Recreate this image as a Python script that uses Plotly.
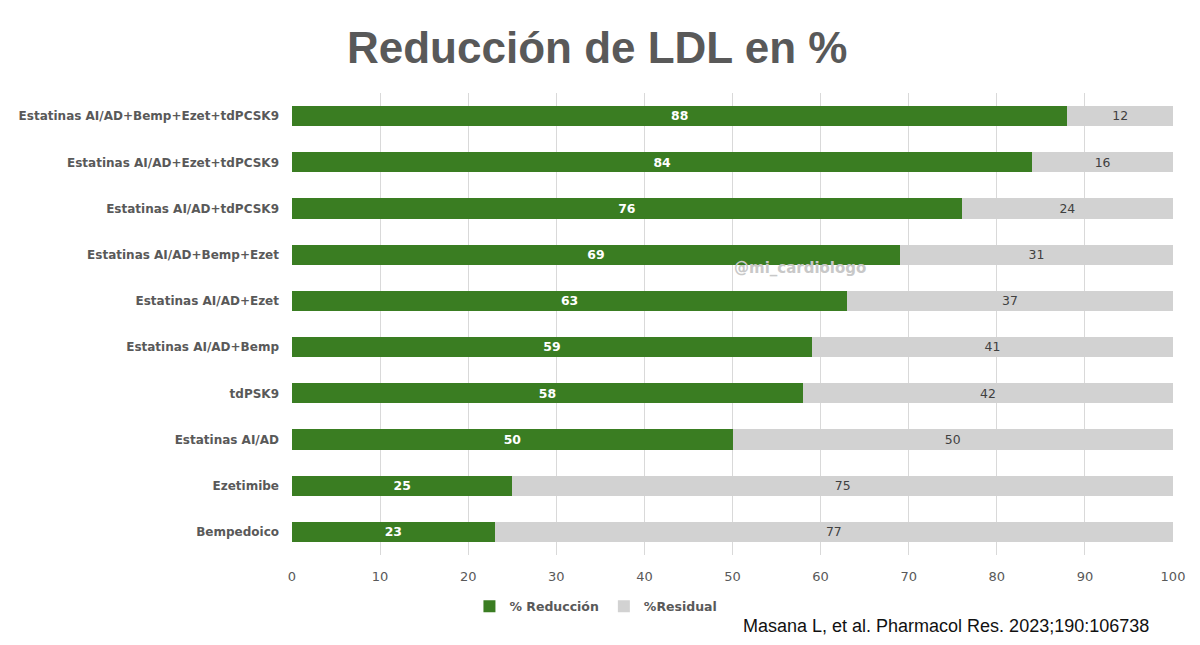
import plotly.graph_objects as go

categories = ["Estatinas AI/AD+Bemp+Ezet+tdPCSK9", "Estatinas AI/AD+Ezet+tdPCSK9",
              "Estatinas AI/AD+tdPCSK9", "Estatinas AI/AD+Bemp+Ezet", "Estatinas AI/AD+Ezet",
              "Estatinas AI/AD+Bemp", "tdPSK9", "Estatinas AI/AD", "Ezetimibe", "Bempedoico"]
reduccion = [88, 84, 76, 69, 63, 59, 58, 50, 25, 23]
residual = [12, 16, 24, 31, 37, 41, 42, 50, 75, 77]
x_ticks = [0, 10, 20, 30, 40, 50, 60, 70, 80, 90, 100]

FONT = "DejaVu Sans"

fig = go.Figure()
fig.add_trace(go.Bar(
    y=categories, x=reduccion, orientation="h", name="<b>% Reducción</b>",
    marker=dict(color="#3a7d22", line=dict(width=0)),
    text=[f"<b>{v}</b>" for v in reduccion], texttemplate="%{text}",
    textposition="inside", insidetextanchor="middle", textangle=0,
    textfont=dict(color="white", size=13, family=FONT),
))
fig.add_trace(go.Bar(
    y=categories, x=residual, orientation="h", name="<b>%Residual</b>",
    marker=dict(color="#d2d2d2", line=dict(width=0)),
    text=[str(v) for v in residual], texttemplate="%{text}",
    textposition="inside", insidetextanchor="middle", textangle=0,
    textfont=dict(color="#404040", size=13, family=FONT),
))

fig.update_layout(
    barmode="stack",
    bargap=0.56,
    width=1200, height=645,
    paper_bgcolor="white", plot_bgcolor="white",
    margin=dict(l=284, r=35, t=85, b=98, autoexpand=False),
    title=dict(text="<b>Reducción de LDL en %</b>", x=0.491, xanchor="center",
               y=0.938, yanchor="middle",
               font=dict(size=44, color="#595959", family="Liberation Sans")),
    xaxis=dict(range=[0, 100], tickvals=x_ticks, showgrid=True, gridcolor="#d9d9d9",
               gridwidth=1, zeroline=False, showline=False,
               tickfont=dict(size=13, color="#595959", family=FONT),
               ticks="", ticklen=0, ticklabelstandoff=12),
    yaxis=dict(categoryorder="array", categoryarray=categories[::-1],
               showgrid=False, showline=False, ticks="", ticklen=0,
               tickfont=dict(size=12, color="#595959", family=FONT),
               tickprefix="<b>", ticklabelstandoff=12),
    legend=dict(orientation="h", x=0.345, xanchor="center", y=-0.112, yanchor="middle",
                font=dict(size=12.5, color="#595959", family=FONT),
                itemwidth=30, traceorder="normal"),
    font=dict(family=FONT),
    uniformtext=dict(mode="show", minsize=12),
)

fig.add_annotation(text="<b>@mi_cardiologo</b>", x=0.577, y=0.621, xref="paper", yref="paper",
                   showarrow=False, font=dict(size=15, color="#c8c8c8", family=FONT))
fig.add_annotation(text="Masana L, et al. Pharmacol Res. 2023;190:106738",
                   x=0.975, y=-0.153, xref="paper", yref="paper", xanchor="right", yanchor="middle",
                   showarrow=False, font=dict(size=18, color="#111111", family="Liberation Sans"))

fig.write_html("out.html")
